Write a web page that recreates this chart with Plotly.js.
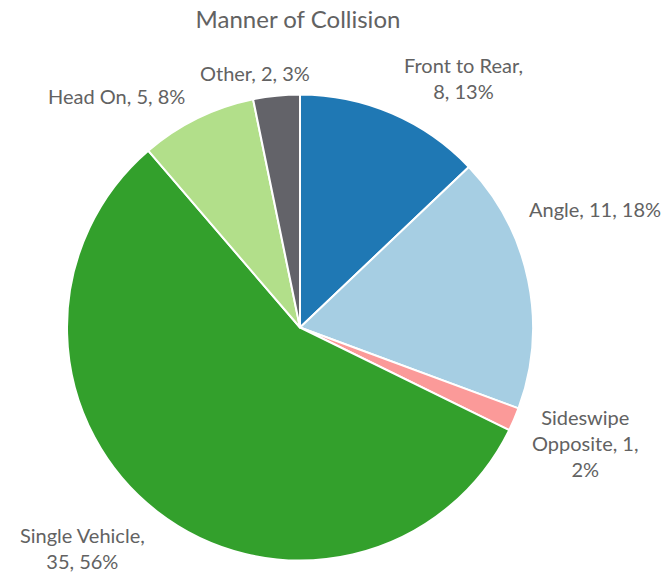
<!DOCTYPE html>
<html><head><meta charset="utf-8">
<script src="https://cdn.plot.ly/plotly-3.0.1.min.js"></script>
<style>html,body{margin:0;padding:0;background:#fff;}#chart{width:665px;height:573px;}</style>
</head><body><div id="chart"></div>
<script>
// Data
const categories = ["Front to Rear", "Angle", "Sideswipe Opposite", "Single Vehicle", "Head On", "Other"];
const counts = [8, 11, 1, 35, 5, 2];
const sliceColors = ["#1f78b4", "#a6cee3", "#fb9a99", "#33a02c", "#b2df8a", "#636369"];
const chartTitle = "Manner of Collision";

// Label placement (pixels in a 665x573 canvas) and line-breaking
const labelPos = [
  {x: 463, y: 78, xa: "center"},
  {x: 527, y: 209, xa: "left"},
  {x: 585, y: 443, xa: "center"},
  {x: 82, y: 548, xa: "center"},
  {x: 116, y: 96, xa: "center"},
  {x: 255, y: 73, xa: "center"}
];
const W = 665, H = 573;
const total = counts.reduce((a, b) => a + b, 0);
function labelText(i) {
  const pct = Math.round(counts[i] / total * 100) + "%";
  const name = categories[i];
  if (name === "Front to Rear") return name + ",<br>" + counts[i] + ", " + pct;
  if (name === "Sideswipe Opposite") return "Sideswipe<br>Opposite, " + counts[i] + ",<br>" + pct;
  if (name === "Single Vehicle") return name + ",<br>" + counts[i] + ", " + pct;
  return name + ", " + counts[i] + ", " + pct;
}
const textColor = "#626262";
const annotations = categories.map((c, i) => ({
  text: labelText(i),
  x: labelPos[i].x / W, y: 1 - labelPos[i].y / H,
  xref: "paper", yref: "paper", xanchor: labelPos[i].xa, yanchor: "middle",
  showarrow: false, align: "center",
  font: {family: "Lato, 'Open Sans', sans-serif", size: 20, color: textColor}
}));

// Pie geometry: center (300, 327.5) radius 233
const cx = 300, cy = 327.5, R = 233;
const data = [{
  type: "pie",
  labels: categories,
  values: counts,
  sort: false,
  direction: "clockwise",
  rotation: 0,
  textinfo: "none",
  hoverinfo: "label+value+percent",
  marker: {colors: sliceColors, line: {color: "#ffffff", width: 2}},
  domain: {x: [(cx - R) / W, (cx + R) / W], y: [(H - cy - R) / H, (H - cy + R) / H]}
}];
const layout = {
  width: W, height: H,
  margin: {l: 0, r: 0, t: 0, b: 0},
  paper_bgcolor: "#ffffff",
  showlegend: false,
  title: {text: chartTitle, x: 298 / W, xanchor: "center", y: 1 - 20 / H, yanchor: "middle",
          font: {family: "Lato, 'Open Sans', sans-serif", size: 24, color: textColor}},
  annotations: annotations
};
Plotly.newPlot("chart", data, layout, {displayModeBar: false, staticPlot: true});
</script></body></html>
